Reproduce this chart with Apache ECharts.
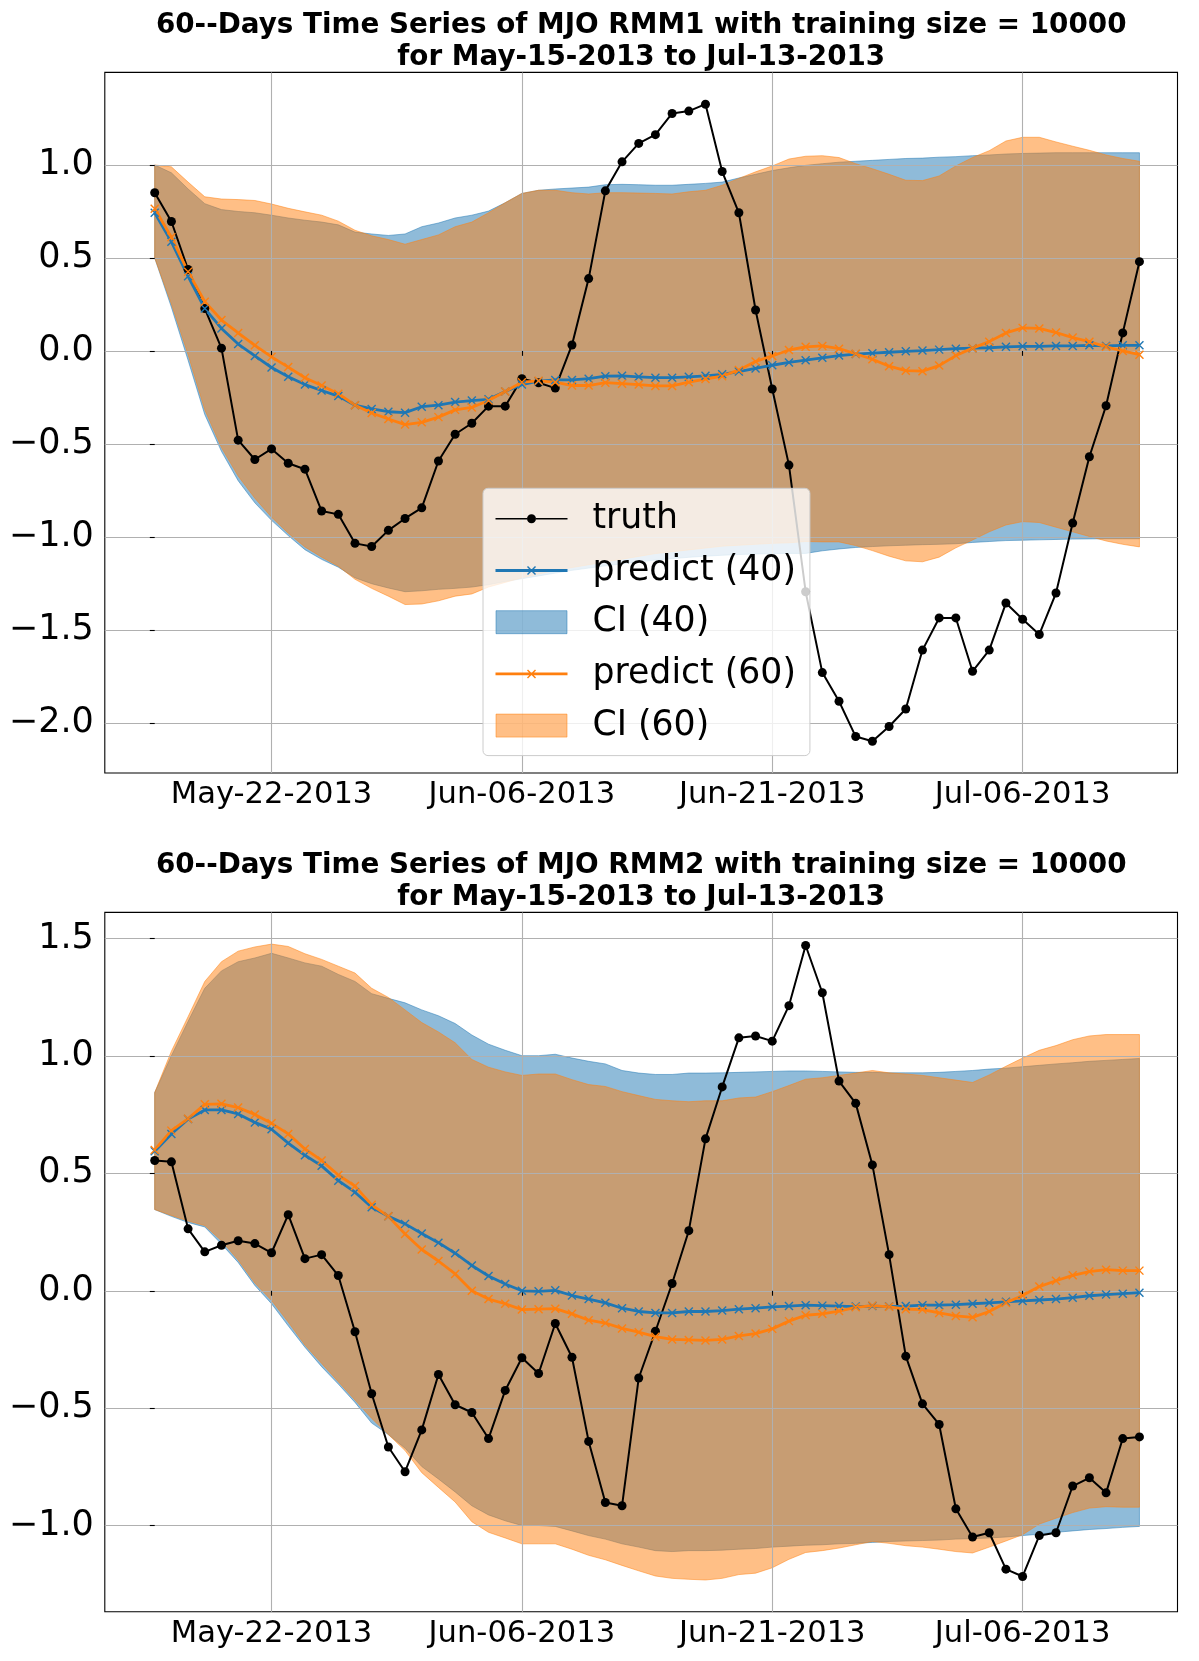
<!DOCTYPE html>
<html>
<head>
<meta charset="utf-8">
<script src="https://cdn.jsdelivr.net/npm/echarts@6.0.0/dist/echarts.min.js"></script>
<style>html,body{margin:0;padding:0;background:#fff}#c{width:1199px;height:1661px}</style>
</head>
<body>
<div id="c"></div>
<script>
// ---------------- data ----------------
const days = [0,1,2,3,4,5,6,7,8,9,10,11,12,13,14,15,16,17,18,19,20,21,22,23,24,25,26,27,28,29,
              30,31,32,33,34,35,36,37,38,39,40,41,42,43,44,45,46,47,48,49,50,51,52,53,54,55,56,57,58,59];
const xTickDays = [7, 22, 37, 52];
const xTickLabels = ['May-22-2013', 'Jun-06-2013', 'Jun-21-2013', 'Jul-06-2013'];
const yTicksRMM1 = [-2, -1.5, -1, -0.5, 0, 0.5, 1];
const yTicksRMM2 = [-1, -0.5, 0, 0.5, 1, 1.5];
const titleRMM1 = ['60--Days Time Series of MJO RMM1 with training size = 10000', 'for May-15-2013 to Jul-13-2013'];
const titleRMM2 = ['60--Days Time Series of MJO RMM2 with training size = 10000', 'for May-15-2013 to Jul-13-2013'];

// RMM1
const truth1 = [0.851,0.696,0.438,0.228,0.015,-0.480,-0.584,-0.527,-0.604,-0.636,
  -0.861,-0.879,-1.035,-1.052,-0.965,-0.901,-0.844,-0.592,-0.448,-0.389,
  -0.297,-0.297,-0.149,-0.171,-0.200,0.032,0.389,0.861,1.017,1.116,
  1.163,1.277,1.290,1.327,0.965,0.743,0.220,-0.205,-0.614,-1.295,
  -1.730,-1.884,-2.074,-2.099,-2.020,-1.926,-1.609,-1.436,-1.436,-1.723,
  -1.609,-1.356,-1.443,-1.525,-1.302,-0.926,-0.569,-0.295,0.097,0.480];
const pred40_1 = [0.743,0.587,0.401,0.228,0.121,0.037,-0.027,-0.089,-0.139,-0.181,
  -0.213,-0.243,-0.292,-0.312,-0.327,-0.332,-0.300,-0.292,-0.275,-0.267,
  -0.260,-0.218,-0.181,-0.163,-0.156,-0.156,-0.149,-0.136,-0.134,-0.139,
  -0.144,-0.144,-0.139,-0.134,-0.126,-0.111,-0.094,-0.077,-0.062,-0.050,
  -0.037,-0.025,-0.017,-0.012,-0.007,-0.002,0.002,0.007,0.012,0.015,
  0.017,0.022,0.025,0.025,0.027,0.027,0.030,0.027,0.030,0.030];
const pred60_1 = [0.765,0.611,0.426,0.265,0.166,0.097,0.030,-0.032,-0.087,-0.144,
  -0.186,-0.230,-0.292,-0.334,-0.366,-0.396,-0.384,-0.356,-0.317,-0.304,
  -0.267,-0.218,-0.168,-0.161,-0.168,-0.186,-0.186,-0.171,-0.176,-0.181,
  -0.188,-0.188,-0.168,-0.151,-0.136,-0.102,-0.057,-0.027,0.005,0.022,
  0.027,0.012,-0.015,-0.045,-0.082,-0.106,-0.109,-0.079,-0.025,0.015,
  0.050,0.097,0.124,0.121,0.099,0.072,0.050,0.022,0.000,-0.020];
const ci40hi_1 = [1.000,0.958,0.871,0.792,0.760,0.750,0.743,0.730,0.715,0.703,
  0.693,0.678,0.639,0.629,0.621,0.629,0.668,0.688,0.715,0.730,
  0.752,0.797,0.847,0.864,0.871,0.876,0.881,0.894,0.896,0.894,
  0.891,0.891,0.896,0.901,0.908,0.930,0.950,0.970,0.985,0.998,
  1.007,1.015,1.020,1.025,1.030,1.035,1.037,1.042,1.045,1.050,
  1.054,1.059,1.062,1.064,1.066,1.066,1.066,1.066,1.066,1.066];
const ci40lo_1 = [0.500,0.235,-0.050,-0.342,-0.540,-0.698,-0.817,-0.911,-0.993,-1.069,
  -1.121,-1.163,-1.220,-1.252,-1.275,-1.295,-1.290,-1.282,-1.277,-1.270,
  -1.257,-1.240,-1.225,-1.210,-1.195,-1.180,-1.168,-1.156,-1.145,-1.135,
  -1.125,-1.117,-1.110,-1.104,-1.099,-1.095,-1.092,-1.090,-1.089,-1.089,
  -1.075,-1.065,-1.057,-1.052,-1.048,-1.045,-1.042,-1.040,-1.037,-1.030,
  -1.025,-1.020,-1.018,-1.016,-1.014,-1.012,-1.011,-1.010,-1.010,-1.010];
const ci60hi_1 = [1.000,0.990,0.908,0.829,0.817,0.814,0.809,0.790,0.767,0.748,
  0.730,0.698,0.649,0.619,0.599,0.574,0.599,0.624,0.668,0.693,
  0.743,0.797,0.847,0.864,0.864,0.851,0.844,0.851,0.851,0.849,
  0.847,0.844,0.856,0.864,0.891,0.928,0.963,0.995,1.032,1.047,
  1.050,1.040,1.007,0.980,0.950,0.918,0.916,0.941,0.995,1.040,
  1.077,1.129,1.149,1.149,1.124,1.101,1.079,1.054,1.035,1.020];
const ci60lo_1 = [0.500,0.252,-0.020,-0.317,-0.520,-0.673,-0.792,-0.894,-0.980,-1.054,
  -1.109,-1.158,-1.228,-1.277,-1.319,-1.364,-1.361,-1.344,-1.319,-1.307,
  -1.270,-1.245,-1.220,-1.200,-1.180,-1.165,-1.150,-1.135,-1.120,-1.105,
  -1.090,-1.080,-1.070,-1.060,-1.050,-1.045,-1.040,-1.035,-1.032,-1.025,
  -1.027,-1.027,-1.047,-1.074,-1.104,-1.129,-1.134,-1.109,-1.059,-1.017,
  -0.973,-0.936,-0.918,-0.923,-0.948,-0.973,-0.998,-1.022,-1.040,-1.054];

// RMM2
const truth2 = [0.555,0.549,0.264,0.166,0.194,0.213,0.201,0.162,0.324,0.137,
  0.154,0.065,-0.174,-0.438,-0.665,-0.770,-0.592,-0.356,-0.485,-0.518,
  -0.629,-0.424,-0.285,-0.352,-0.139,-0.283,-0.641,-0.901,-0.915,-0.371,
  -0.172,0.031,0.256,0.647,0.868,1.077,1.085,1.063,1.214,1.470,
  1.269,0.893,0.798,0.536,0.154,-0.278,-0.481,-0.569,-0.928,-1.048,
  -1.030,-1.185,-1.216,-1.042,-1.030,-0.831,-0.796,-0.860,-0.629,-0.622];
const pred40_2 = [0.594,0.668,0.731,0.770,0.770,0.753,0.717,0.688,0.629,0.577,
  0.532,0.469,0.420,0.356,0.317,0.285,0.244,0.205,0.160,0.108,
  0.063,0.029,0.000,-0.002,0.002,-0.020,-0.035,-0.051,-0.074,-0.088,
  -0.094,-0.094,-0.088,-0.088,-0.084,-0.078,-0.074,-0.068,-0.065,-0.061,
  -0.063,-0.065,-0.067,-0.065,-0.067,-0.065,-0.061,-0.061,-0.059,-0.055,
  -0.051,-0.047,-0.043,-0.039,-0.035,-0.029,-0.021,-0.016,-0.012,-0.008];
const pred60_2 = [0.600,0.682,0.733,0.794,0.796,0.780,0.751,0.713,0.668,0.604,
  0.555,0.493,0.446,0.366,0.317,0.242,0.176,0.127,0.072,0.000,
  -0.035,-0.055,-0.080,-0.078,-0.076,-0.098,-0.125,-0.137,-0.160,-0.176,
  -0.195,-0.207,-0.209,-0.211,-0.207,-0.192,-0.182,-0.162,-0.129,-0.104,
  -0.098,-0.086,-0.070,-0.063,-0.068,-0.078,-0.080,-0.094,-0.107,-0.113,
  -0.088,-0.051,-0.020,0.018,0.043,0.066,0.082,0.090,0.086,0.086];
const ci40hi_2 = [0.844,1.001,1.147,1.288,1.362,1.401,1.417,1.437,1.417,1.396,
  1.382,1.347,1.317,1.265,1.245,1.226,1.196,1.171,1.138,1.089,
  1.050,1.024,1.001,1.001,1.007,0.991,0.977,0.966,0.938,0.927,
  0.921,0.921,0.927,0.927,0.928,0.930,0.932,0.934,0.936,0.936,
  0.934,0.932,0.930,0.930,0.928,0.928,0.928,0.930,0.934,0.938,
  0.944,0.948,0.954,0.960,0.966,0.971,0.977,0.981,0.985,0.989];
const ci40lo_2 = [0.346,0.317,0.291,0.272,0.199,0.121,0.023,-0.055,-0.149,-0.240,
  -0.323,-0.397,-0.475,-0.563,-0.612,-0.670,-0.748,-0.801,-0.856,-0.915,
  -0.954,-0.979,-0.999,-0.999,-1.003,-1.022,-1.042,-1.057,-1.077,-1.091,
  -1.106,-1.110,-1.106,-1.106,-1.104,-1.100,-1.097,-1.091,-1.087,-1.083,
  -1.081,-1.077,-1.075,-1.071,-1.067,-1.065,-1.063,-1.061,-1.057,-1.055,
  -1.052,-1.048,-1.042,-1.036,-1.028,-1.022,-1.016,-1.012,-1.007,-1.003];
const ci60hi_2 = [0.844,1.020,1.167,1.317,1.401,1.446,1.464,1.476,1.466,1.435,
  1.411,1.382,1.353,1.288,1.249,1.196,1.142,1.102,1.056,0.985,
  0.952,0.932,0.917,0.923,0.923,0.899,0.878,0.870,0.848,0.831,
  0.815,0.809,0.805,0.809,0.809,0.821,0.825,0.848,0.874,0.901,
  0.907,0.917,0.927,0.938,0.928,0.923,0.917,0.907,0.897,0.887,
  0.919,0.956,0.991,1.024,1.044,1.069,1.085,1.091,1.091,1.091];
const ci60lo_2 = [0.346,0.321,0.297,0.278,0.213,0.131,0.033,-0.041,-0.133,-0.231,
  -0.309,-0.387,-0.465,-0.543,-0.612,-0.680,-0.774,-0.837,-0.899,-0.983,
  -1.028,-1.052,-1.077,-1.077,-1.077,-1.100,-1.126,-1.145,-1.169,-1.192,
  -1.214,-1.224,-1.228,-1.231,-1.224,-1.208,-1.202,-1.179,-1.143,-1.114,
  -1.106,-1.095,-1.081,-1.067,-1.075,-1.085,-1.091,-1.100,-1.110,-1.116,
  -1.091,-1.065,-1.038,-0.993,-0.968,-0.944,-0.925,-0.919,-0.921,-0.921];

// ---------------- styling ----------------
const FONT = 'DejaVu Sans';
const BLUE = '#1f77b4', ORANGE = '#ff7f0e';
const BLUE_A = 'rgba(31,119,180,0.5)', ORANGE_A = 'rgba(255,127,14,0.5)';
const X_MARK = 'path://M0,0L10,10M10,0L0,10';

const pts = arr => arr.map((v, i) => [days[i], v]);

// Confidence band drawn as one polygon; every vertex goes through the axes via api.coord
function bandSeries(k, name, lo, hi, fillColor) {
  return {
    type: 'custom', name: name, xAxisIndex: k, yAxisIndex: k, z: 1, silent: true, animation: false,
    data: days.map((d, i) => [d, lo[i], hi[i]]),
    encode: {x: 0, y: [1, 2]},
    renderItem: function (params, api) {
      if (params.dataIndex !== 0) return null;
      const upper = [], lower = [];
      for (let i = 0; i < days.length; i++) {
        upper.push(api.coord([days[i], hi[i]]));
        lower.push(api.coord([days[i], lo[i]]));
      }
      return {
        type: 'polygon',
        shape: {points: upper.concat(lower.reverse())},
        style: {fill: fillColor, stroke: fillColor, lineWidth: 1}
      };
    }
  };
}

function panelSeries(k, truth, p40, p60, lo40, hi40, lo60, hi60) {
  const common = {type: 'line', xAxisIndex: k, yAxisIndex: k, animation: false, silent: true,
                  emphasis: {disabled: true}, smooth: false};
  return [
    bandSeries(k, 'CI (40)', lo40, hi40, BLUE_A),
    bandSeries(k, 'CI (60)', lo60, hi60, ORANGE_A),
    Object.assign({}, common, {name: 'truth', data: pts(truth), symbol: 'circle', symbolSize: 9,
      lineStyle: {color: '#000', width: 2}, itemStyle: {color: '#000'}, z: 3}),
    Object.assign({}, common, {name: 'predict (40)', data: pts(p40), symbol: X_MARK, symbolSize: 8,
      lineStyle: {color: BLUE, width: 2.8}, itemStyle: {color: BLUE, borderColor: BLUE, borderWidth: 1.4}, z: 3}),
    Object.assign({}, common, {name: 'predict (60)', data: pts(p60), symbol: X_MARK, symbolSize: 8,
      lineStyle: {color: ORANGE, width: 2.8}, itemStyle: {color: ORANGE, borderColor: ORANGE, borderWidth: 1.4}, z: 3})
  ];
}

const yFmt = v => {
  if (Math.abs(v) < 1e-9) return '0.0';
  return (v < 0 ? '\u2212' : '') + Math.abs(v).toFixed(1);
};
const xFmt = v => {
  const i = xTickDays.indexOf(Math.round(v));
  return i >= 0 ? xTickLabels[i] : '';
};

function xAxisCfg(k) {
  return {
    type: 'value', gridIndex: k, min: -2.99, max: 61.28, z: 2,
    axisLine: {show: false},
    axisTick: {show: true, customValues: xTickDays, length: 4.9, lineStyle: {color: '#000', width: 1.1}},
    axisLabel: {show: true, customValues: xTickDays, formatter: xFmt, margin: 7,
      fontFamily: FONT, fontSize: 30.6, color: '#000'},
    splitLine: {show: true, lineStyle: {color: '#b0b0b0', width: 1.1}}
  };
}
function yAxisCfg(k, min, max, ticks) {
  return {
    type: 'value', gridIndex: k, min: min, max: max, z: 2,
    axisLine: {show: false},
    axisTick: {show: true, customValues: ticks, length: 4.9, lineStyle: {color: '#000', width: 1.1}},
    axisLabel: {show: true, customValues: ticks, formatter: yFmt, margin: 11, padding: [5, 0, 0, 0],
      fontFamily: FONT, fontSize: 35, color: '#000'},
    splitLine: {show: true, lineStyle: {color: '#b0b0b0', width: 1.1}}
  };
}

const ICON_TRUTH = 'path://M0,0M92,24M0,11.2h31.5v1.6h-31.5zM40.5,11.2h31.5v1.6h-31.5zM36,7.5a4.5,4.5 0 1 1 0,9a4.5,4.5 0 1 1 0,-9z';
const ICON_PRED = 'path://M0,0M92,24M0,10.6h72v2.8h-72zM32.5,7.5L40.5,15.5L39.5,16.5L31.5,8.5zM40.5,8.5L32.5,16.5L31.5,15.5L39.5,7.5z';
const ICON_CI = 'path://M0.5,0.5h71v23h-71zM0,0M92,24';

const titleStyle = {fontFamily: FONT, fontWeight: 'bold', fontSize: 27.8, lineHeight: 32, color: '#000'};

const option = {
  animation: false,
  backgroundColor: '#ffffff',
  textStyle: {fontFamily: FONT},
  title: [
    {text: titleRMM1.join('\n'), left: 641.2, top: 10, textAlign: 'center', padding: 0, textStyle: titleStyle},
    {text: titleRMM2.join('\n'), left: 641.2, top: 850, textAlign: 'center', padding: 0, textStyle: titleStyle}
  ],
  grid: [
    {left: 104.8, right: 21.5, top: 72.4, height: 700.6, show: true, borderColor: '#000', borderWidth: 1.1,
     backgroundColor: 'rgba(0,0,0,0)', containLabel: false, outerBoundsMode: 'none'},
    {left: 104.8, right: 21.5, top: 912.4, height: 699.3, show: true, borderColor: '#000', borderWidth: 1.1,
     backgroundColor: 'rgba(0,0,0,0)', containLabel: false, outerBoundsMode: 'none'}
  ],
  xAxis: [xAxisCfg(0), xAxisCfg(1)],
  yAxis: [yAxisCfg(0, -2.27, 1.498, yTicksRMM1), yAxisCfg(1, -1.366, 1.611, yTicksRMM2)],
  legend: {
    show: true, orient: 'vertical', left: 483, top: 488.3,
    itemWidth: 92, itemHeight: 24, itemGap: 10.7, symbolKeepAspect: false, selectedMode: false,
    padding: [10, 14, 9.5, 12],
    backgroundColor: 'rgba(255,255,255,0.8)', borderColor: '#cccccc', borderWidth: 1, borderRadius: 5,
    textStyle: {fontFamily: FONT, fontSize: 34.7, color: '#000', lineHeight: 41},
    data: [
      {name: 'truth', icon: ICON_TRUTH, itemStyle: {color: '#000', borderWidth: 0, opacity: 1}},
      {name: 'predict (40)', icon: ICON_PRED, itemStyle: {color: BLUE, borderWidth: 0, opacity: 1}},
      {name: 'CI (40)', icon: ICON_CI, itemStyle: {color: BLUE_A, borderColor: BLUE_A, borderWidth: 1, opacity: 1}},
      {name: 'predict (60)', icon: ICON_PRED, itemStyle: {color: ORANGE, borderWidth: 0, opacity: 1}},
      {name: 'CI (60)', icon: ICON_CI, itemStyle: {color: ORANGE_A, borderColor: ORANGE_A, borderWidth: 1, opacity: 1}}
    ]
  },
  series: [].concat(
    panelSeries(0, truth1, pred40_1, pred60_1, ci40lo_1, ci40hi_1, ci60lo_1, ci60hi_1),
    panelSeries(1, truth2, pred40_2, pred60_2, ci40lo_2, ci40hi_2, ci60lo_2, ci60hi_2)
  )
};

const chart = echarts.init(document.getElementById('c'), null, {renderer: 'canvas', width: 1199, height: 1661});
chart.setOption(option);
</script>
</body>
</html>
